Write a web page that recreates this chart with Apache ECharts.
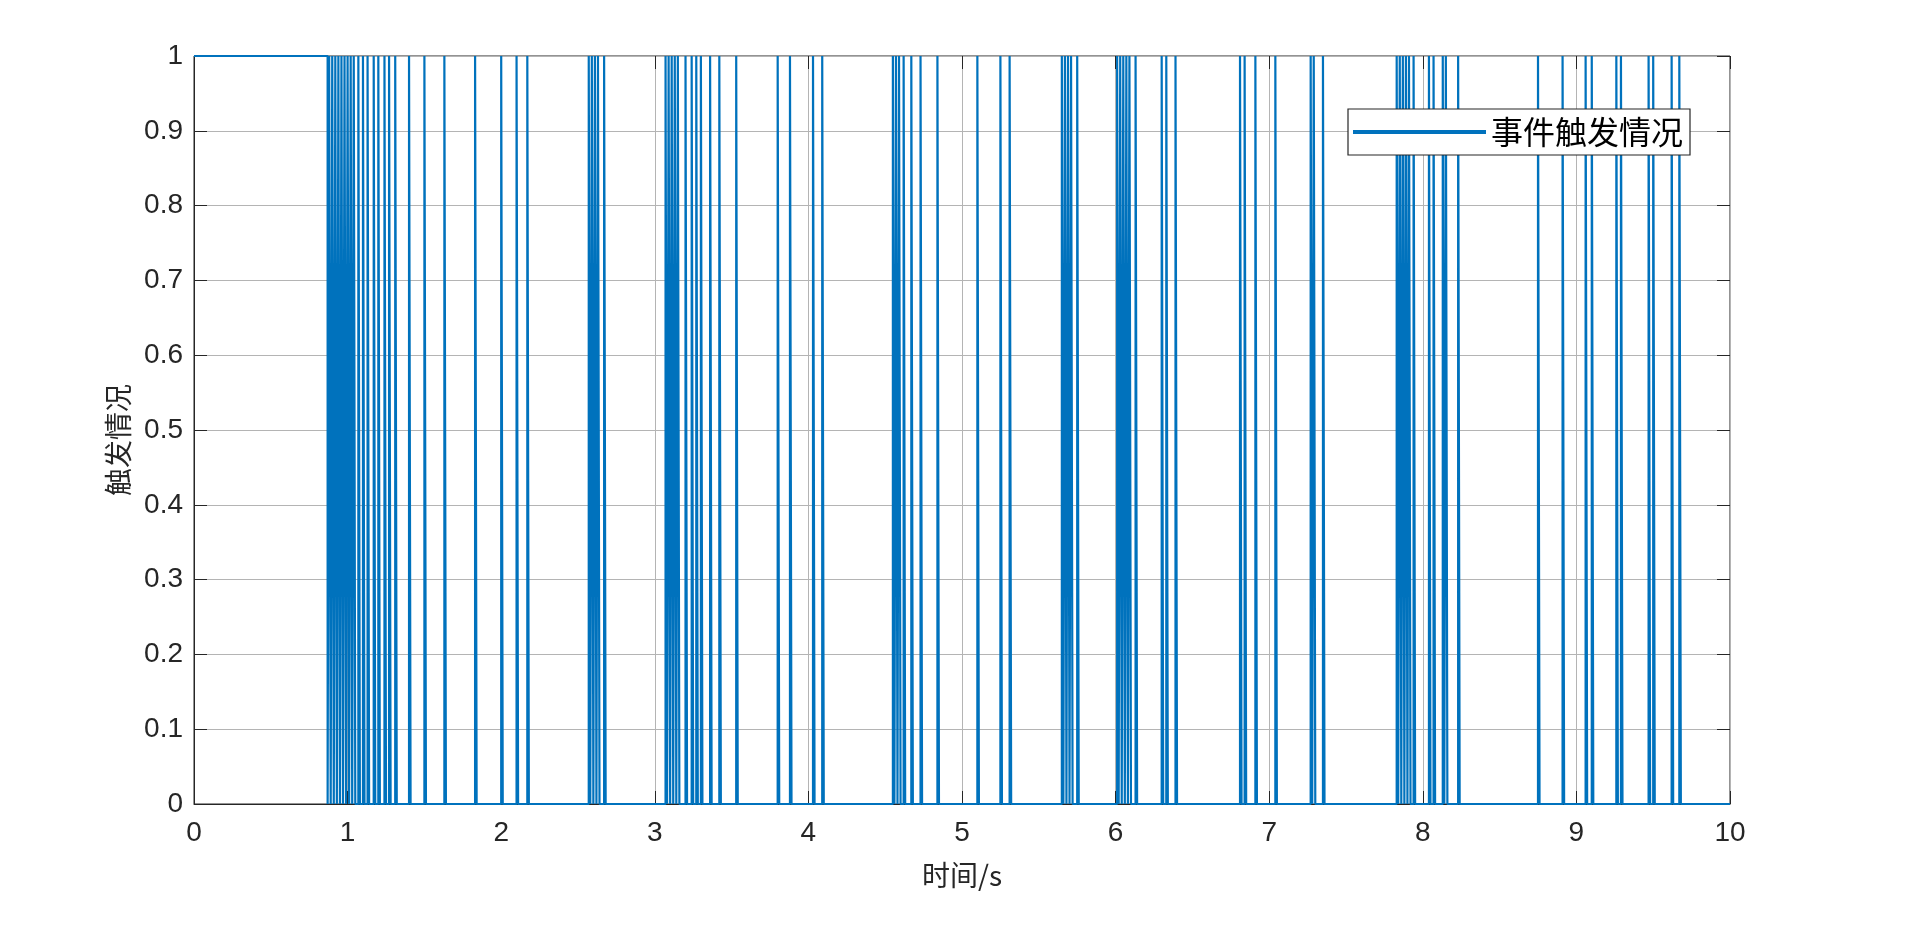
<!DOCTYPE html>
<html lang="zh">
<head>
    <meta charset="UTF-8">
    <title>事件触发情况</title>
    <script src="https://cdn.jsdelivr.net/npm/echarts@6/dist/echarts.min.js"></script>
</head>
<style>
html,body{margin:0;padding:0;background-color:#ffffff}
#chartBox{width:1920px;height:937px}
</style>
<body>
    <div id="chartBox"></div>
</body>
<script>
// 数据: 触发时刻(s), 每次触发持续一个采样周期
const seriesName = '事件触发情况';
const initialOn = [0, 0.87];   // 开始阶段一直为1
const sampleStep = 0.01;
const triggerTimes = [
    0.88, 0.90, 0.92, 0.94, 0.96, 0.98, 1.00, 1.02,
    1.04, 1.07, 1.10, 1.13, 1.17, 1.20, 1.24, 1.27, 1.31, 1.40, 1.50, 1.63, 1.83, 2.00, 2.10, 2.17,
    2.57, 2.59, 2.61, 2.63, 2.67,
    3.07, 3.09, 3.11, 3.13, 3.15, 3.20, 3.24, 3.27, 3.30, 3.36, 3.42, 3.53, 3.80, 3.88, 4.03, 4.09,
    4.55, 4.57, 4.59, 4.62, 4.67, 4.73, 4.84, 5.10, 5.25, 5.31,
    5.65, 5.67, 5.69, 5.71, 5.75,
    6.01, 6.03, 6.05, 6.07, 6.09, 6.13, 6.30, 6.33, 6.39, 6.81, 6.84, 6.91, 7.04, 7.27, 7.29, 7.35,
    7.83, 7.85, 7.87, 7.89, 7.91, 7.94, 8.04, 8.07, 8.13, 8.15, 8.23, 8.75, 8.91, 9.06, 9.10, 9.26,
    9.29, 9.47, 9.50, 9.62, 9.67
];
const timeRange = [0, 10];
const xTicks = [0, 1, 2, 3, 4, 5, 6, 7, 8, 9, 10];
const yTicks = [0, 0.1, 0.2, 0.3, 0.4, 0.5, 0.6, 0.7, 0.8, 0.9, 1];

const LINE_COLOR = '#0072BD';
const AXIS_COLOR = '#262626';
const NUM_FONT = '"Liberation Sans", Arial, sans-serif';
const CJK_FONT = '"Noto Sans CJK SC", sans-serif';

// 把触发时刻转成折线点
function buildLine(){
    let pts = [[initialOn[0], 1], [initialOn[1], 1], [initialOn[1], 0]];
    triggerTimes.forEach(t => {
        pts.push([t, 0], [t, 1], [t + sampleStep, 1], [t + sampleStep, 0]);
    });
    pts.push([timeRange[1], 0]);
    return pts;
}

// 上、右两条只画刻度的辅助轴
function boxAxis(pos){
    return {
        type: 'value',
        position: pos,
        min: pos === 'top' ? timeRange[0] : 0,
        max: pos === 'top' ? timeRange[1] : 1,
        interval: pos === 'top' ? 1 : 0.1,
        axisLine: {show: false, onZero: false},
        axisTick: {show: true, inside: true, length: 13, lineStyle: {color: AXIS_COLOR}},
        axisLabel: {show: false},
        splitLine: {show: false}
    };
}

let chartObj = echarts.init(document.getElementById('chartBox'));
let option = {
    animation: false,
    grid: {
        left: 194,
        right: 190,
        top: 56,
        bottom: 133,
        show: true,
        borderColor: AXIS_COLOR,
        borderWidth: 1,
        backgroundColor: '#ffffff'
    },
    legend: {
        left: 1348,
        top: 109,
        padding: [7, 7, 7, 5],
        borderColor: AXIS_COLOR,
        borderWidth: 1.2,
        backgroundColor: '#ffffff',
        itemWidth: 133,
        itemHeight: 4,
        textStyle: {fontSize: 32, fontFamily: CJK_FONT, color: '#000000'},
        data: [{name: seriesName, icon: 'rect'}]
    },
    xAxis: [
        {
            type: 'value',
            min: timeRange[0],
            max: timeRange[1],
            interval: 1,
            name: '时间/s',
            nameLocation: 'middle',
            nameGap: 57,
            nameTextStyle: {fontSize: 28, fontFamily: CJK_FONT, color: AXIS_COLOR},
            axisLine: {show: true, onZero: false, lineStyle: {color: AXIS_COLOR, width: 1}},
            axisTick: {show: true, inside: true, length: 13, lineStyle: {color: AXIS_COLOR}},
            axisLabel: {
                margin: 15,
                fontSize: 28,
                fontFamily: NUM_FONT,
                color: AXIS_COLOR,
                formatter: v => xTicks.indexOf(v) >= 0 ? String(v) : ''
            },
            splitLine: {show: true, lineStyle: {color: '#b4b4b4', width: 1}}
        },
        boxAxis('top')
    ],
    yAxis: [
        {
            type: 'value',
            min: 0,
            max: 1,
            interval: 0.1,
            name: '触发情况',
            nameLocation: 'middle',
            nameGap: 62,
            nameTextStyle: {fontSize: 28, fontFamily: CJK_FONT, color: AXIS_COLOR, padding: [0, 20, 0, 0]},
            axisLine: {show: true, onZero: false, lineStyle: {color: AXIS_COLOR, width: 1}},
            axisTick: {show: true, inside: true, length: 13, lineStyle: {color: AXIS_COLOR}},
            axisLabel: {
                margin: 11,
                fontSize: 28,
                fontFamily: NUM_FONT,
                color: AXIS_COLOR,
                formatter: v => {
                    let r = Math.round(v * 10) / 10;
                    return yTicks.indexOf(r) >= 0 ? String(r) : '';
                }
            },
            splitLine: {show: true, lineStyle: {color: '#b4b4b4', width: 1}}
        },
        boxAxis('right')
    ],
    series: [
        {
            type: 'line',
            name: seriesName,
            xAxisIndex: 0,
            yAxisIndex: 0,
            data: buildLine(),
            showSymbol: false,
            symbol: 'none',
            clip: false,
            lineStyle: {color: LINE_COLOR, width: 2.2},
            itemStyle: {color: LINE_COLOR}
        }
    ]
};
chartObj.setOption(option);
</script>
</html>
